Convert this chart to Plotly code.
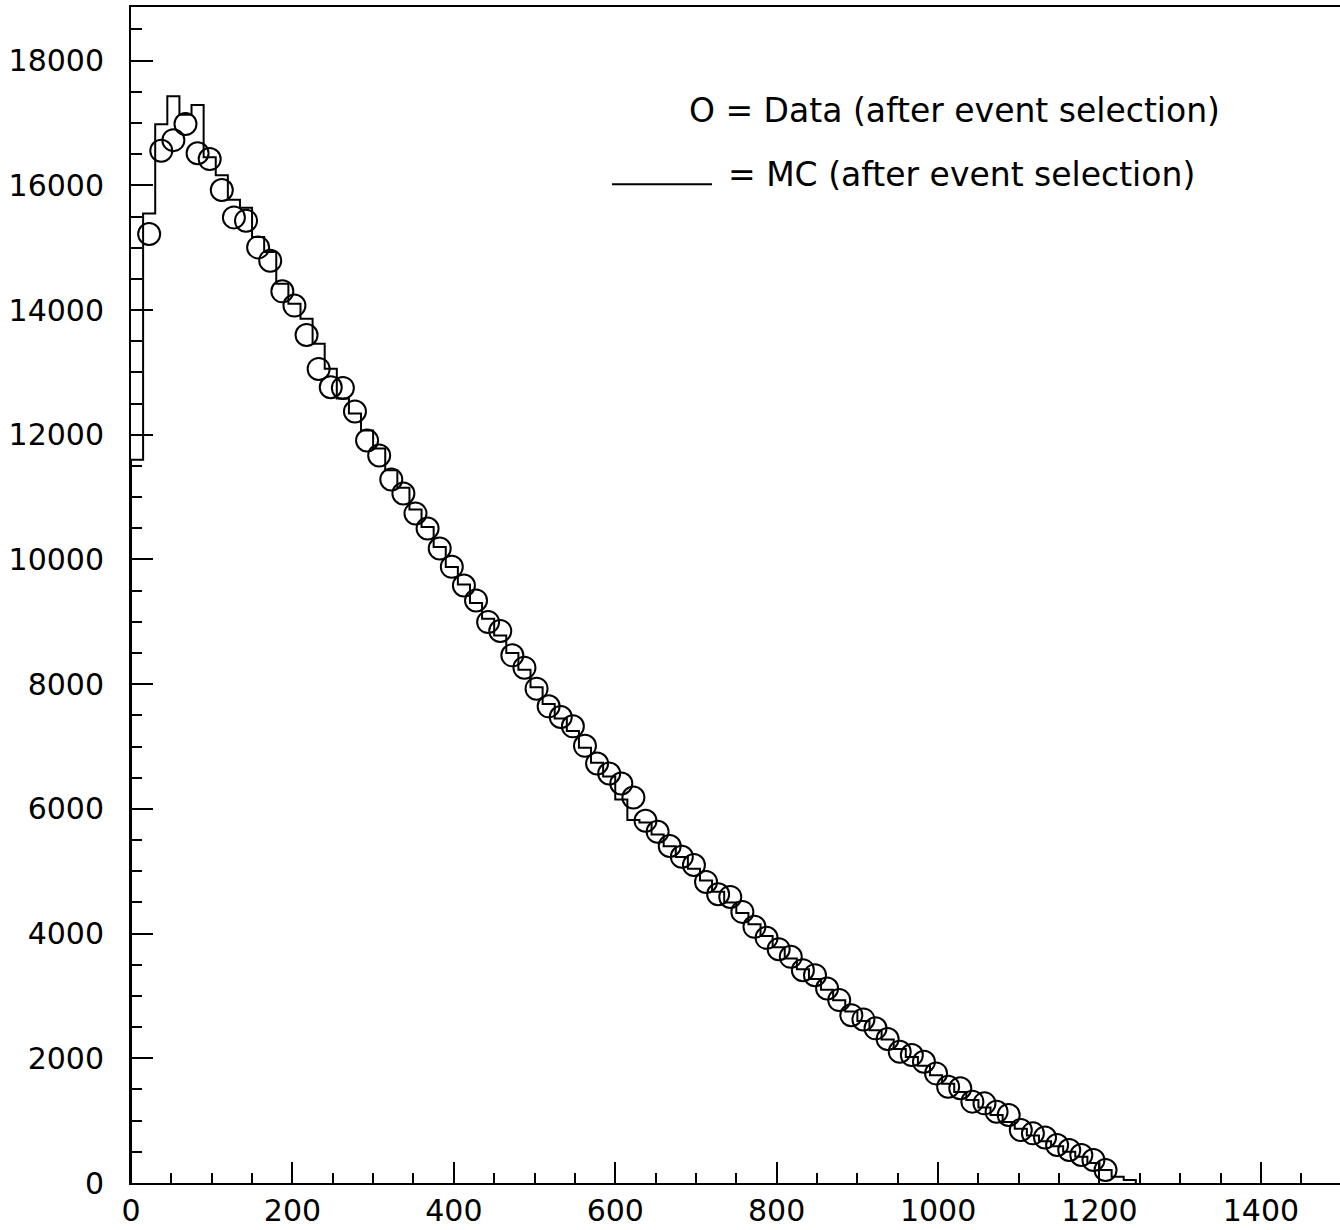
import plotly.graph_objects as go

# ---- data ----
bin_width = 15
# MC histogram contents, bins starting at 0 with width 15
mc_counts = [11600, 15550, 16980, 17430, 17130, 17290, 16450, 16160, 15770, 15640,
             15170, 14930, 14420, 14100, 13860, 13460, 13060, 12580, 12340, 12070,
             11780, 11430, 11150, 10800, 10520, 10200, 9880, 9600, 9300, 9050,
             8780, 8500, 8230, 7950, 7680, 7450, 7250, 6980, 6740, 6520,
             6150, 5820, 5780, 5590, 5400, 5230, 5040, 4850, 4670, 4500,
             4330, 4150, 3960, 3780, 3600, 3430, 3270, 3100, 2930, 2750,
             2600, 2450, 2300, 2150, 2020, 1880, 1730, 1590, 1460, 1330,
             1210, 1090, 980, 870, 760, 670, 590, 500, 420, 320,
             210, 100, 50]
# Data points (bin centres from 22.5 onward)
data_first_bin = 1
data_counts = [15220, 16554, 16725, 16983, 16514, 16421, 15925, 15486, 15433, 15005,
               14792, 14300, 14071, 13600, 13056, 12761, 12751, 12372, 11907, 11667,
               11282, 11058, 10737, 10497, 10176, 9882, 9583, 9343, 8995, 8853,
               8462, 8265, 7928, 7644, 7473, 7324, 7011, 6728, 6568, 6407,
               6183, 5809, 5633, 5404, 5232, 5100, 4829, 4631, 4588, 4348,
               4108, 3932, 3750, 3627, 3413, 3333, 3120, 2933, 2692, 2623,
               2480, 2310, 2105, 2051, 1944, 1758, 1544, 1519, 1305, 1277,
               1143, 1090, 850, 796, 730, 609, 529, 449, 369, 208]
x_tick_vals = [0, 200, 400, 600, 800, 1000, 1200, 1400]
y_tick_vals = [0, 2000, 4000, 6000, 8000, 10000, 12000, 14000, 16000, 18000]
y_tick_text = ["0", "2000", "4000", "6000", "8000", "10000", "12000", "14000", "16000", "18000"]
legend_data = "O = Data (after event selection)"
legend_mc = "= MC (after event selection)"

# ---- build traces ----
n = len(mc_counts)
edges = [bin_width * i for i in range(n + 1)]
hx = [0] + edges[:-1] + [edges[-1]]
hy = [0] + mc_counts + [0]

dx = [bin_width * (data_first_bin + i) + bin_width / 2 for i in range(len(data_counts))]

FONT = "DejaVu Sans"

fig = go.Figure()
fig.add_trace(go.Scatter(x=hx, y=hy, mode="lines", line=dict(shape="hv", color="black", width=2),
                         showlegend=False, hoverinfo="skip"))
fig.add_trace(go.Scatter(x=dx, y=data_counts, mode="markers",
                         marker=dict(symbol="circle-open", size=22, color="black", line=dict(width=2, color="black")),
                         showlegend=False))

fig.update_layout(
    width=1340, height=1230,
    margin=dict(l=131, r=0, t=7, b=47),
    paper_bgcolor="white", plot_bgcolor="white",
    font=dict(family=FONT, size=30, color="black"),
    xaxis=dict(range=[0, 1498], tickvals=x_tick_vals, ticks="inside", ticklen=21, tickwidth=1.5,
               tickcolor="black", showline=True, linecolor="black", linewidth=2, mirror=True,
               showgrid=False, zeroline=False, tickfont=dict(size=30, family=FONT),
               minor=dict(dtick=50, ticks="inside", ticklen=10, tickwidth=1.5, tickcolor="black", showgrid=False)),
    yaxis=dict(range=[0, 18860], tickvals=y_tick_vals, ticktext=y_tick_text, ticks="inside", ticklen=22,
               tickwidth=1.5, tickcolor="black", showline=True, linecolor="black", linewidth=2, mirror=False,
               showgrid=False, zeroline=False, tickfont=dict(size=30, family=FONT),
               ticklabelstandoff=19,
               minor=dict(dtick=500, ticks="inside", ticklen=11, tickwidth=1.5, tickcolor="black", showgrid=False)),
)

fig.add_annotation(x=(1222 - 131) / 1209, y=(1183 - 110) / 1176.3, xref="paper", yref="paper",
                   text=legend_data, showarrow=False,
                   xanchor="right", yanchor="middle", font=dict(size=33, family=FONT))
fig.add_annotation(x=(1197 - 131) / 1209, y=(1183 - 174) / 1176.3, xref="paper", yref="paper",
                   text=legend_mc, showarrow=False,
                   xanchor="right", yanchor="middle", font=dict(size=33, family=FONT))
fig.add_shape(type="line", xref="paper", yref="paper", x0=(612 - 131) / 1209, x1=(712 - 131) / 1209,
              y0=(1183 - 184) / 1176.3, y1=(1183 - 184) / 1176.3, line=dict(color="black", width=2))

fig.write_html("out.html")
